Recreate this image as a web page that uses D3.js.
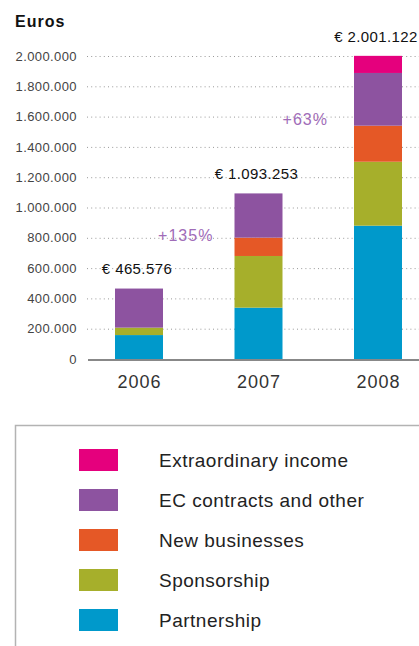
<!DOCTYPE html>
<html>
<head>
<meta charset="utf-8">
<script src="https://cdn.jsdelivr.net/npm/d3@7"></script>
<style>
  body { margin: 0; background: #fff; }
  text { font-family: "Liberation Sans", Arial, Helvetica, sans-serif; }
</style>
</head>
<body>
<div id="chart"></div>
<script>
// data
let years = ["2006", "2007", "2008"];
let partnership   = [158000, 339000, 880000];
let sponsorship   = [49000, 341000, 422000];
let newBusinesses = [0, 121000, 238000];
let ecContracts   = [258000, 292000, 348000];
let extraordinary = [0, 0, 113000];
let totals = [465576, 1093253, 2001122];
let growth = ["+135%", "+63%"];
let yTicks = [0, 200000, 400000, 600000, 800000, 1000000, 1200000, 1400000, 1600000, 1800000, 2000000];

let seriesNames = ["Partnership", "Sponsorship", "New businesses", "EC contracts and other", "Extraordinary income"];
let seriesValues = [partnership, sponsorship, newBusinesses, ecContracts, extraordinary];
let seriesColors = ["#0099cb", "#a6af2b", "#e55826", "#8d53a0", "#e5007d"];

let larg = 419;
let alt = 646;

let svg = d3.select("#chart")
            .append("svg")
            .attr("width", larg)
            .attr("height", alt);

let fmt = d3.formatLocale({decimal: ",", thousands: ".", grouping: [3], currency: ["€ ", ""]});
let num = fmt.format(",d");

let y = d3.scaleLinear()
          .domain([0, 2000000])
          .range([359, 56]);

let x = d3.scalePoint()
          .domain(years)
          .range([139, 378]);

let barW = 48;

// titulo
svg.append("text")
   .attr("x", 15)
   .attr("y", 27)
   .style("font-size", "16px")
   .style("font-weight", "bold")
   .style("letter-spacing", "1px")
   .attr("fill", "#111")
   .text("Euros");

// grid
svg.append("g")
   .selectAll("line")
   .data(yTicks.slice(1))
   .enter()
   .append("line")
   .attr("x1", 87)
   .attr("x2", larg)
   .attr("y1", d => y(d) + 0.5)
   .attr("y2", d => y(d) + 0.5)
   .attr("stroke", "#999")
   .attr("stroke-dasharray", "1,3.2");

// eixo Y
let axisY = d3.axisLeft(y)
              .tickValues(yTicks)
              .tickSize(0)
              .tickPadding(0)
              .tickFormat(num);

svg.append("g")
   .attr("transform", "translate(77,0)")
   .call(axisY)
   .call(g => g.select(".domain").remove())
   .call(g => g.selectAll("text")
               .style("font-size", "13px")
               .style("letter-spacing", "0.4px")
               .style("font-family", "'Liberation Sans', Arial, sans-serif")
               .attr("fill", "#444"));

// barras empilhadas
let rows = years.map((yr, i) => {
    let r = {year: yr};
    seriesNames.forEach((s, k) => r[s] = seriesValues[k][i]);
    return r;
});
let stack = d3.stack().keys(seriesNames)(rows);

svg.append("g")
   .selectAll("g")
   .data(stack)
   .enter()
   .append("g")
   .attr("fill", (d, k) => seriesColors[k])
   .selectAll("rect")
   .data(d => d)
   .enter()
   .append("rect")
   .attr("x", d => x(d.data.year) - barW / 2)
   .attr("width", barW)
   .attr("y", d => y(d[1]))
   .attr("height", d => y(d[0]) - y(d[1]));

// linha de base
svg.append("line")
   .attr("x1", 88)
   .attr("x2", larg)
   .attr("y1", 360)
   .attr("y2", 360)
   .attr("stroke", "#888")
   .attr("stroke-width", 2);

// eixo X
let axisX = d3.axisBottom(x).tickSize(0).tickPadding(0);
svg.append("g")
   .attr("transform", "translate(0,388)")
   .call(axisX)
   .call(g => g.select(".domain").remove())
   .call(g => g.selectAll("text")
               .attr("dy", 0)
               .style("font-size", "18px")
               .style("letter-spacing", "1px")
               .style("font-family", "'Liberation Sans', Arial, sans-serif")
               .attr("fill", "#333"));

// totais
svg.selectAll(".total")
   .data(totals)
   .enter()
   .append("text")
   .attr("class", "total")
   .attr("x", (d, i) => x(years[i]) - 2)
   .attr("y", d => y(d) - 14)
   .attr("text-anchor", "middle")
   .style("font-size", "15px")
   .style("letter-spacing", "0.4px")
   .attr("fill", "#111")
   .text(d => "€ " + num(d));

// crescimento
svg.selectAll(".growth")
   .data(growth)
   .enter()
   .append("text")
   .attr("class", "growth")
   .attr("x", (d, i) => (x(years[i]) + x(years[i + 1])) / 2 - 13)
   .attr("y", (d, i) => y((totals[i] + totals[i + 1]) / 2))
   .attr("text-anchor", "middle")
   .style("font-size", "16px")
   .style("letter-spacing", "1px")
   .attr("fill", "#a06cb8")
   .text(d => d);

// legenda
let leg = svg.append("g");
leg.append("rect")
   .attr("x", 15.5)
   .attr("y", 425.5)
   .attr("width", 420)
   .attr("height", 300)
   .attr("fill", "none")
   .attr("stroke", "#b3b3b3")
   .attr("stroke-width", 1.5);

let legOrder = seriesNames.map((s, k) => k).reverse();
let items = leg.selectAll(".item")
   .data(legOrder)
   .enter()
   .append("g")
   .attr("class", "item")
   .attr("transform", (k, i) => "translate(79," + (449 + i * 40) + ")");

items.append("rect")
   .attr("width", 39)
   .attr("height", 22)
   .attr("fill", k => seriesColors[k]);

items.append("text")
   .attr("x", 80)
   .attr("y", 11)
   .attr("dy", "0.35em")
   .style("font-size", "19px")
   .style("letter-spacing", "0.5px")
   .attr("fill", "#222")
   .text(k => seriesNames[k]);
</script>
</body>
</html>
